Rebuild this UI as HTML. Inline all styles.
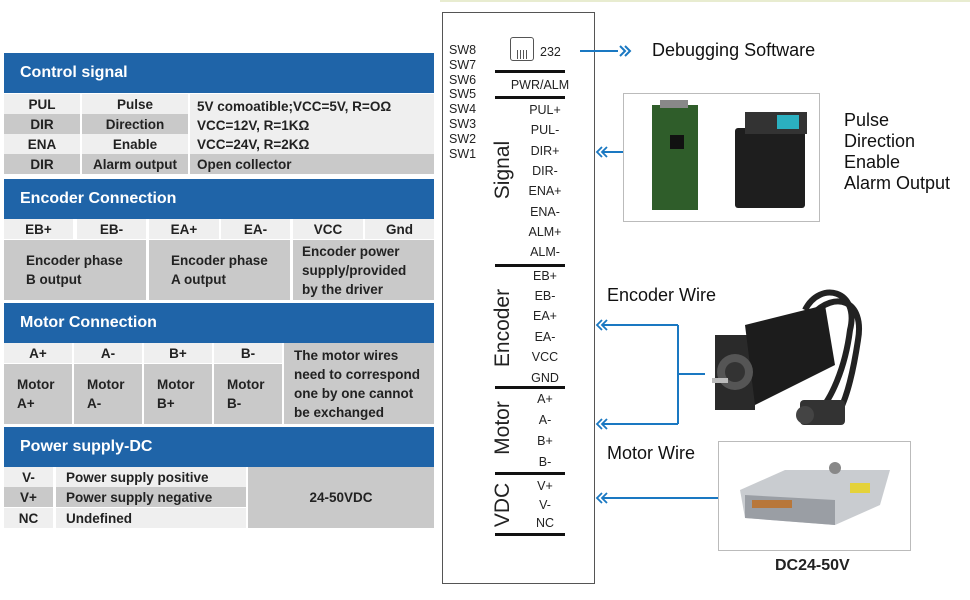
<!DOCTYPE html>
<html><head><meta charset="utf-8"><style>
*{margin:0;padding:0;box-sizing:border-box}
body{width:970px;height:600px;background:#fff;position:relative;overflow:hidden;font-family:"Liberation Sans",sans-serif}
.a{position:absolute}
.h{position:absolute;left:4px;width:430px;height:40px;background:#1f64a8;color:#fff;font-weight:bold;font-size:16px;line-height:40px;padding-left:16px}
.c{position:absolute;font-weight:bold;font-size:13.5px;color:#222;display:flex;align-items:center;justify-content:center;text-align:center;line-height:19px}
.l{justify-content:flex-start;text-align:left;padding-left:7px}
.L{background:#efefef}.D{background:#c9c9c9}
.t{position:absolute;font-size:12.5px;color:#222;line-height:14.8px}
.p{position:absolute;left:515px;width:60px;text-align:center;font-size:12.5px;color:#222;line-height:14px}
.bar{position:absolute;left:495px;width:70px;height:3px;background:#111}
.v{position:absolute;font-size:21px;color:#222;transform:translate(-50%,-50%) rotate(-90deg);white-space:nowrap}
.r{position:absolute;font-size:18px;color:#111;line-height:21px}
</style></head><body>
<div class="a" style="left:440px;top:0;width:530px;height:2px;background:#e8ecd0"></div>
<!-- Control signal -->
<div class="h" style="top:53px">Control signal</div>
<div class="c L" style="left:4px;top:94px;width:76px;height:20px">PUL</div>
<div class="c L" style="left:82px;top:94px;width:106px;height:20px">Pulse</div>
<div class="c D" style="left:4px;top:114px;width:76px;height:20px">DIR</div>
<div class="c D" style="left:82px;top:114px;width:106px;height:20px">Direction</div>
<div class="c L" style="left:4px;top:134px;width:76px;height:20px">ENA</div>
<div class="c L" style="left:82px;top:134px;width:106px;height:20px">Enable</div>
<div class="c D" style="left:4px;top:154px;width:76px;height:20px">DIR</div>
<div class="c D" style="left:82px;top:154px;width:106px;height:20px">Alarm output</div>
<div class="c L l" style="left:190px;top:94px;width:244px;height:60px;align-items:flex-start;padding-top:3px;flex-direction:column">5V comoatible;VCC=5V, R=OΩ<br>VCC=12V, R=1KΩ<br>VCC=24V, R=2KΩ</div>
<div class="c D l" style="left:190px;top:154px;width:244px;height:20px">Open collector</div>
<!-- Encoder -->
<div class="h" style="top:179px">Encoder Connection</div>
<div class="c L" style="left:4px;top:219px;width:69px;height:20px">EB+</div>
<div class="c L" style="left:77px;top:219px;width:69px;height:20px">EB-</div>
<div class="c L" style="left:149px;top:219px;width:70px;height:20px">EA+</div>
<div class="c L" style="left:221px;top:219px;width:69px;height:20px">EA-</div>
<div class="c L" style="left:293px;top:219px;width:70px;height:20px">VCC</div>
<div class="c L" style="left:365px;top:219px;width:69px;height:20px">Gnd</div>
<div class="c D l" style="left:4px;top:240px;width:142px;height:60px;padding-left:22px">Encoder phase<br>B output</div>
<div class="c D l" style="left:149px;top:240px;width:141px;height:60px;padding-left:22px">Encoder phase<br>A output</div>
<div class="c D l" style="left:293px;top:240px;width:141px;height:60px;padding-left:9px">Encoder power<br>supply/provided<br>by the driver</div>
<!-- Motor -->
<div class="h" style="top:303px">Motor Connection</div>
<div class="c L" style="left:4px;top:343px;width:68px;height:20px">A+</div>
<div class="c L" style="left:74px;top:343px;width:68px;height:20px">A-</div>
<div class="c L" style="left:144px;top:343px;width:68px;height:20px">B+</div>
<div class="c L" style="left:214px;top:343px;width:68px;height:20px">B-</div>
<div class="c D l" style="left:4px;top:364px;width:68px;height:60px;padding-left:13px">Motor<br>A+</div>
<div class="c D l" style="left:74px;top:364px;width:68px;height:60px;padding-left:13px">Motor<br>A-</div>
<div class="c D l" style="left:144px;top:364px;width:68px;height:60px;padding-left:13px">Motor<br>B+</div>
<div class="c D l" style="left:214px;top:364px;width:68px;height:60px;padding-left:13px">Motor<br>B-</div>
<div class="c D l" style="left:284px;top:343px;width:150px;height:81px;padding-left:10px">The motor wires<br>need to correspond<br>one by one cannot<br>be exchanged</div>
<!-- Power -->
<div class="h" style="top:427px">Power supply-DC</div>
<div class="c L" style="left:4px;top:467px;width:49px;height:20px">V-</div>
<div class="c L l" style="left:56px;top:467px;width:190px;height:20px;padding-left:10px">Power supply positive</div>
<div class="c D" style="left:4px;top:487px;width:49px;height:20px">V+</div>
<div class="c D l" style="left:56px;top:487px;width:190px;height:20px;padding-left:10px">Power supply negative</div>
<div class="c L" style="left:4px;top:508px;width:49px;height:20px">NC</div>
<div class="c L l" style="left:56px;top:508px;width:190px;height:20px;padding-left:10px">Undefined</div>
<div class="c D" style="left:248px;top:467px;width:186px;height:61px">24-50VDC</div>

<!-- Driver box -->
<div class="a" style="left:442px;top:12px;width:153px;height:572px;border:1.5px solid #555"></div>
<div class="t" style="left:449px;top:43px">SW8<br>SW7<br>SW6<br>SW5<br>SW4<br>SW3<br>SW2<br>SW1</div>
<div class="a" style="left:510px;top:37px;width:24px;height:24px;border:1.5px solid #555;border-radius:3px;background:repeating-linear-gradient(90deg,#fff 0 2px,#555 2px 3px) 4px 12px/14px 9px no-repeat"></div>
<div class="t" style="left:540px;top:45px">232</div>
<div class="bar" style="top:70px"></div>
<div class="p" style="left:502px;width:76px;top:78px">PWR/ALM</div>
<div class="bar" style="top:96px"></div>
<div class="p" style="top:103px">PUL+</div>
<div class="p" style="top:123px">PUL-</div>
<div class="p" style="top:144px">DIR+</div>
<div class="p" style="top:164px">DIR-</div>
<div class="p" style="top:184px">ENA+</div>
<div class="p" style="top:205px">ENA-</div>
<div class="p" style="top:225px">ALM+</div>
<div class="p" style="top:245px">ALM-</div>
<div class="bar" style="top:264px"></div>
<div class="p" style="top:269px">EB+</div>
<div class="p" style="top:289px">EB-</div>
<div class="p" style="top:309px">EA+</div>
<div class="p" style="top:330px">EA-</div>
<div class="p" style="top:350px">VCC</div>
<div class="p" style="top:371px">GND</div>
<div class="bar" style="top:386px"></div>
<div class="p" style="top:392px">A+</div>
<div class="p" style="top:413px">A-</div>
<div class="p" style="top:434px">B+</div>
<div class="p" style="top:455px">B-</div>
<div class="bar" style="top:472px"></div>
<div class="p" style="top:479px">V+</div>
<div class="p" style="top:498px">V-</div>
<div class="p" style="top:516px">NC</div>
<div class="bar" style="top:533px"></div>
<div class="v" style="left:503px;top:170px">Signal</div>
<div class="v" style="left:503px;top:328px">Encoder</div>
<div class="v" style="left:503px;top:428px">Motor</div>
<div class="v" style="left:503px;top:505px">VDC</div>

<!-- connectors -->
<svg class="a" style="left:0;top:0" width="970" height="600">
<g stroke="#1a78c2" stroke-width="2" fill="none">
<line x1="580" y1="51" x2="618" y2="51"/>
<polyline points="620,46 625,51 620,56"/><polyline points="625,46 630,51 625,56"/>
<line x1="602" y1="152" x2="625" y2="152"/>
<line x1="602" y1="325" x2="678" y2="325"/><line x1="602" y1="424" x2="678" y2="424"/>
<line x1="678" y1="325" x2="678" y2="424"/><line x1="678" y1="374" x2="705" y2="374"/>
<line x1="602" y1="498" x2="718" y2="498"/>
<g stroke-width="1.8">
<polyline points="602,147 597,152 602,157"/><polyline points="607,147 602,152 607,157"/>
<polyline points="602,320 597,325 602,330"/><polyline points="607,320 602,325 607,330"/>
<polyline points="602,419 597,424 602,429"/><polyline points="607,419 602,424 607,429"/>
<polyline points="602,493 597,498 602,503"/><polyline points="607,493 602,498 607,503"/>
</g></g>
<!-- image box 1 -->
<rect x="623.5" y="93.5" width="196" height="128" fill="#fff" stroke="#bbb"/>
<rect x="652" y="105" width="46" height="105" fill="#2f5d2a"/>
<rect x="660" y="100" width="28" height="8" fill="#888"/>
<rect x="670" y="135" width="14" height="14" fill="#111"/>
<rect x="735" y="128" width="70" height="80" rx="3" fill="#1e1e1e"/>
<rect x="745" y="112" width="62" height="22" fill="#333"/>
<rect x="777" y="115" width="22" height="14" fill="#2bb0c0"/>
<!-- motor -->
<path d="M805 310 C820 280 860 290 850 330 C845 370 830 400 820 410" stroke="#222" stroke-width="6" fill="none"/>
<path d="M812 315 C835 290 865 300 858 340 C852 380 845 400 840 410" stroke="#222" stroke-width="6" fill="none"/>
<rect x="715" y="335" width="40" height="75" fill="#2a2a2a"/>
<polygon points="745,325 825,305 835,365 755,405" fill="#1c1c1c"/>
<circle cx="735" cy="372" r="18" fill="#555"/><circle cx="735" cy="372" r="10" fill="#333"/>
<rect x="712" y="378" width="16" height="5" fill="#bbb"/>
<rect x="800" y="400" width="45" height="25" rx="4" fill="#333"/>
<circle cx="805" cy="415" r="9" fill="#444"/>
<!-- psu box -->
<rect x="718.5" y="441.5" width="192" height="109" fill="#fff" stroke="#bbb"/>
<polygon points="740,490 785,470 890,470 880,505 835,525 745,518" fill="#c9ccd0"/>
<polygon points="745,495 835,500 835,525 745,518" fill="#9a9ea4"/>
<rect x="752" y="500" width="40" height="8" fill="#b8773a"/>
<rect x="850" y="483" width="20" height="10" fill="#e4d23a"/>
<circle cx="835" cy="468" r="6" fill="#888"/>
</svg>
<div class="r" style="left:652px;top:40px">Debugging Software</div>
<div class="r" style="left:844px;top:110px">Pulse<br>Direction<br>Enable<br>Alarm Output</div>
<div class="r" style="left:607px;top:285px">Encoder Wire</div>
<div class="r" style="left:607px;top:443px">Motor Wire</div>
<div class="a" style="left:775px;top:557px;font-size:16px;font-weight:bold;color:#222">DC24-50V</div>
</body></html>
